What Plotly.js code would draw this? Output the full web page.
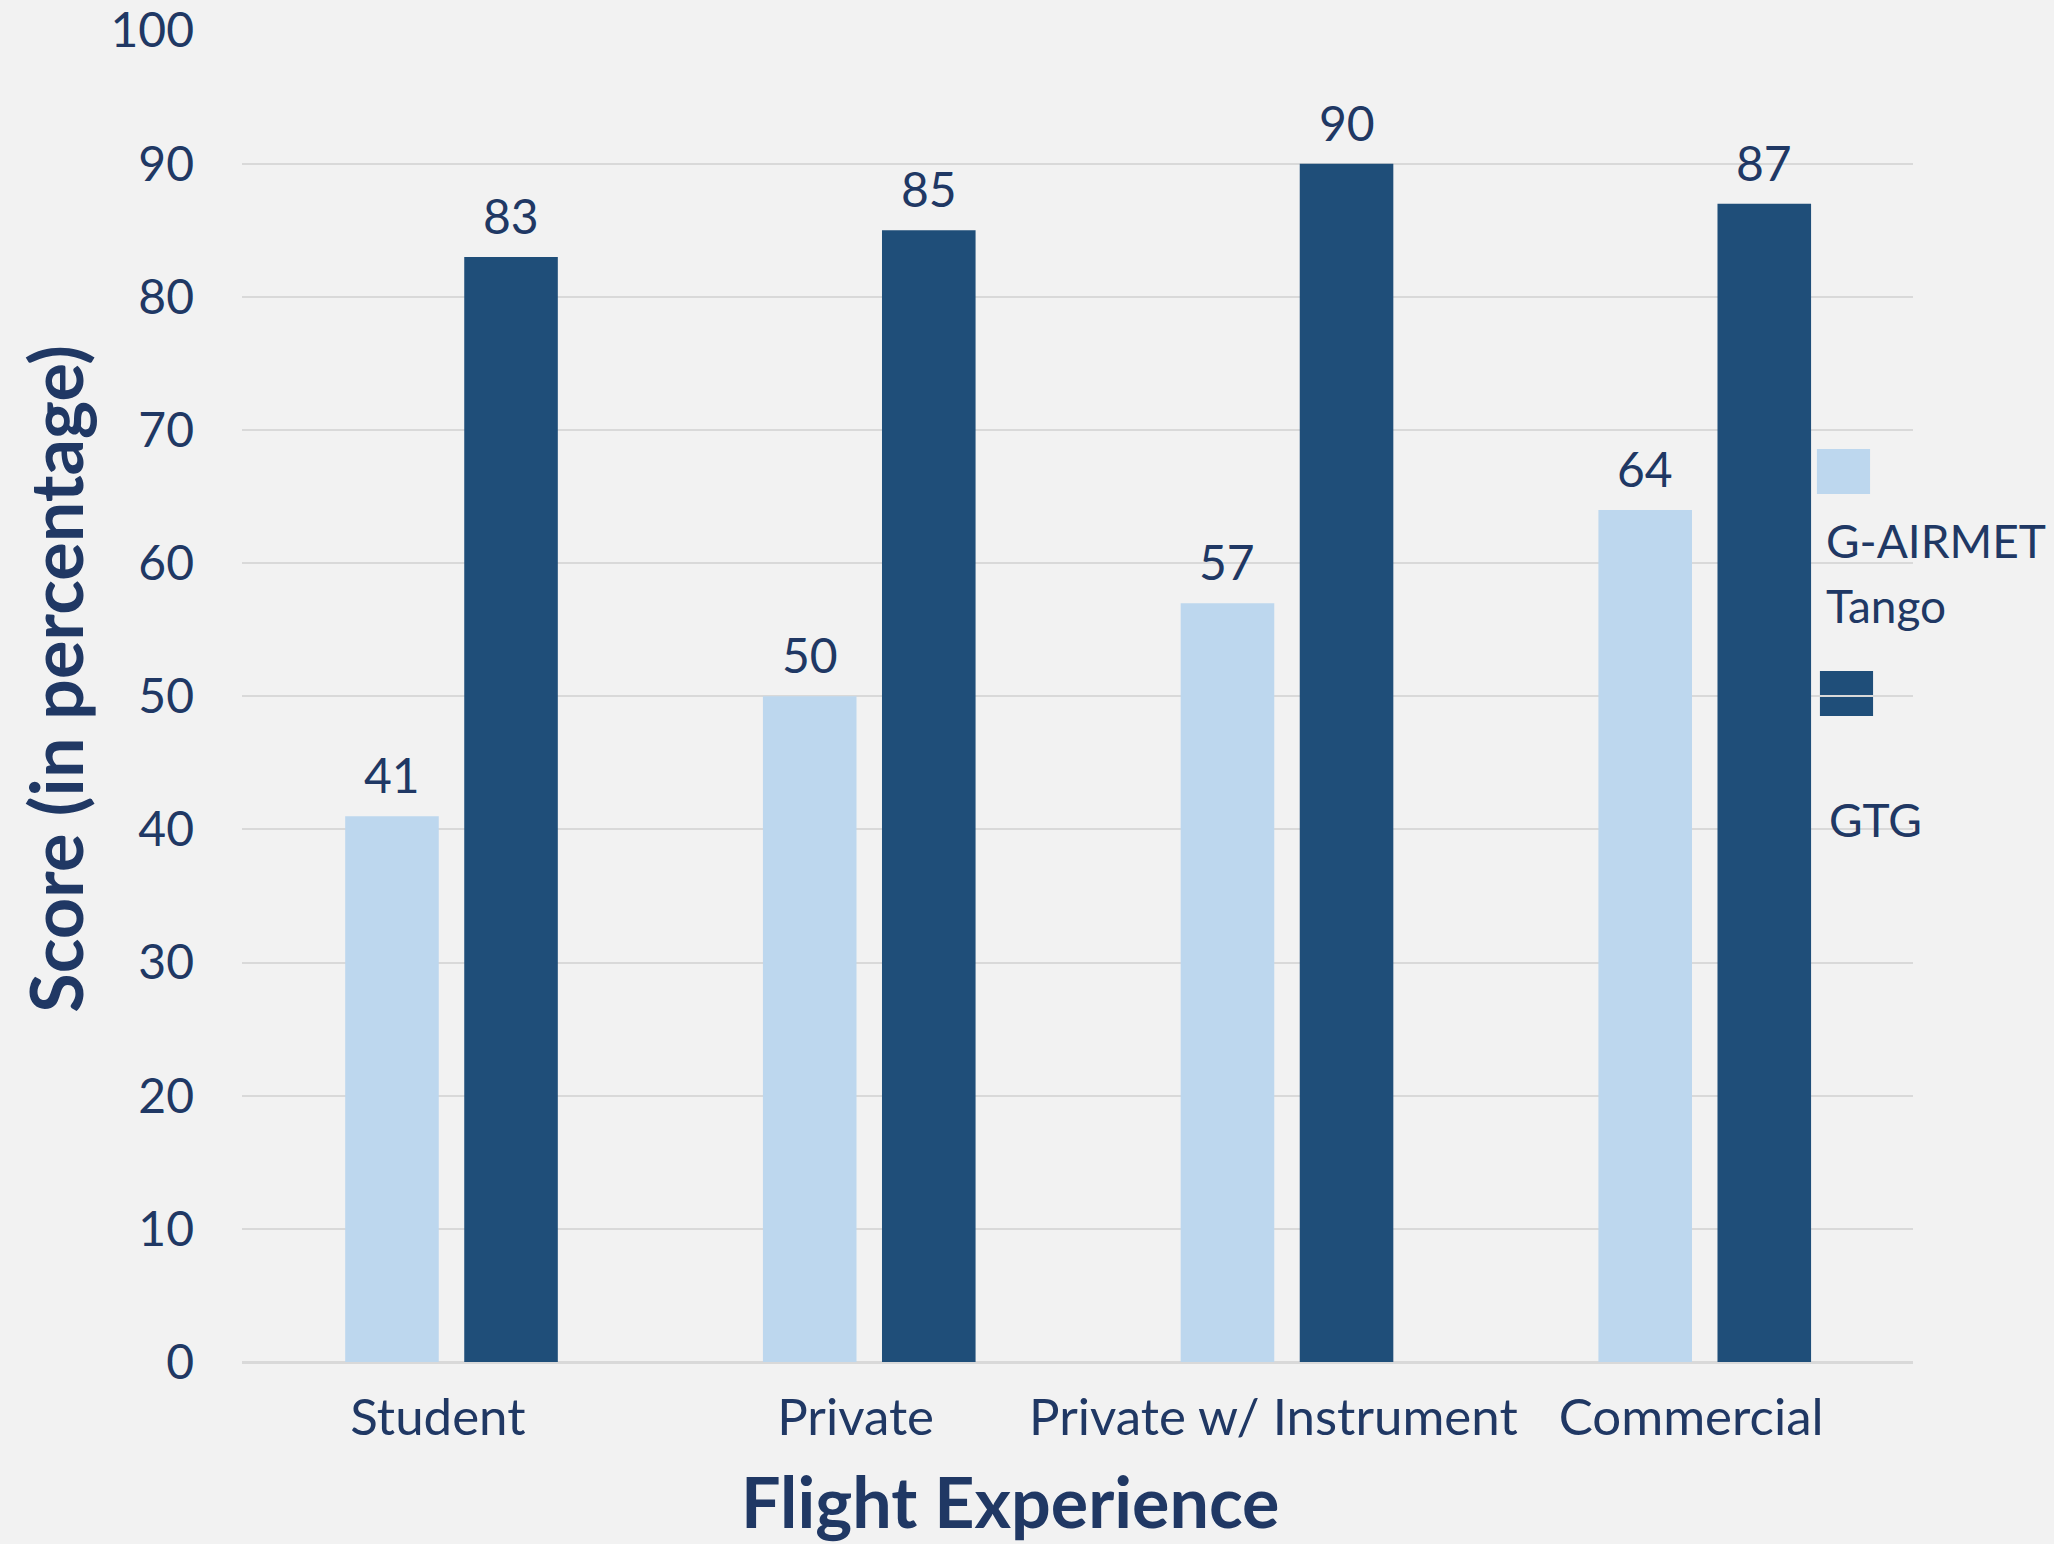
<!DOCTYPE html>
<html>
<head>
<meta charset="utf-8">
<script src="https://cdn.plot.ly/plotly-3.0.1.min.js"></script>
<style>
html,body{margin:0;padding:0;background:#F2F2F2;}
#chart{width:2054px;height:1544px;}
</style>
</head>
<body>
<div id="chart"></div>
<script>
// ---- data ----
const categories = ["Student", "Private", "Private w/ Instrument", "Commercial"];
const seriesNames = ["G-AIRMET Tango", "GTG"];
const gairmetTango = [41, 50, 57, 64];
const gtg = [83, 85, 90, 87];
const yTicks = [0, 10, 20, 30, 40, 50, 60, 70, 80, 90, 100];

// ---- style ----
const TXT = "#203864";
const LIGHT = "#BDD7EE";
const DARK = "#1F4E79";
const FONT = "Lato, 'Open Sans', sans-serif";
const BAR_W = 0.224;
const OFF_L = -0.253, OFF_D = 0.032;

const traces = [
  {type: "bar", name: seriesNames[0], x: categories, y: gairmetTango,
   marker: {color: LIGHT}, width: BAR_W, offset: OFF_L, hoverinfo: "none"},
  {type: "bar", name: seriesNames[1], x: categories, y: gtg,
   marker: {color: DARK}, width: BAR_W, offset: OFF_D, hoverinfo: "none"}
];

// data labels (pixel shift from category centre to bar centre)
const plotW = 1671, catPx = plotW / categories.length;
const shiftL = (OFF_L + BAR_W / 2) * catPx;
const shiftD = (OFF_D + BAR_W / 2) * catPx;
const annotations = [];
categories.forEach((c, i) => {
  annotations.push({x: c, y: gairmetTango[i], xref: "x", yref: "y", text: String(gairmetTango[i]),
    showarrow: false, xshift: shiftL, yanchor: "bottom", yshift: 11,
    font: {family: FONT, size: 48, color: TXT}});
  annotations.push({x: c, y: gtg[i], xref: "x", yref: "y", text: String(gtg[i]),
    showarrow: false, xshift: shiftD, yanchor: "bottom", yshift: 11,
    font: {family: FONT, size: 48, color: TXT}});
});
// legend (Excel-style: swatch above text)
const legFont = {family: FONT, size: 46, color: TXT};
annotations.push({xref: "paper", yref: "paper", x: 0.9470, y: 0.617, xanchor: "left", yanchor: "middle",
  text: "G-AIRMET", showarrow: false, font: legFont});
annotations.push({xref: "paper", yref: "paper", x: 0.9470, y: 0.568, xanchor: "left", yanchor: "middle",
  text: "Tango", showarrow: false, font: legFont});
annotations.push({xref: "paper", yref: "paper", x: 0.9485, y: 0.407, xanchor: "left", yanchor: "middle",
  text: seriesNames[1], showarrow: false, font: legFont});
// axis titles (Excel places them slightly off-centre)
annotations.push({xref: "paper", yref: "paper", x: 0.4595, y: -0.1040, xanchor: "center", yanchor: "middle",
  text: "<b>Flight Experience</b>", showarrow: false, font: {family: FONT, size: 70, color: TXT}});
annotations.push({xref: "paper", yref: "paper", x: -0.1119, y: 0.513, xanchor: "center", yanchor: "middle",
  textangle: -90, text: "<b>Score (in percentage)</b>", showarrow: false, font: {family: FONT, size: 72, color: TXT}});

const shapes = [
  {type: "rect", xref: "paper", yref: "paper", x0: 0.9425, x1: 0.9743, y0: 0.6517, y1: 0.6854,
   fillcolor: LIGHT, line: {width: 0}, layer: "below"},
  {type: "rect", xref: "paper", yref: "paper", x0: 0.9443, x1: 0.9761, y0: 0.485, y1: 0.5188,
   fillcolor: DARK, line: {width: 0}, layer: "below"}
];

const layout = {
  width: 2054, height: 1544,
  paper_bgcolor: "#F2F2F2", plot_bgcolor: "#F2F2F2",
  margin: {l: 242, r: 141, t: 30, b: 182, pad: 0},
  showlegend: false,
  barmode: "overlay",
  font: {family: FONT, color: TXT},
  xaxis: {
    type: "category", showgrid: false, zeroline: false, showline: false, ticks: "",
    tickfont: {family: FONT, size: 51, color: TXT},
    ticklabelshift: -13, ticklabelstandoff: 21
  },
  yaxis: {
    range: [0, 100.05], tickvals: yTicks, ticktext: yTicks.map(String),
    showgrid: true, gridcolor: "#D9D9D9", gridwidth: 2,
    zeroline: true, zerolinecolor: "#D9D9D9", zerolinewidth: 3,
    showline: false, ticks: "", ticklabelstandoff: 47,
    tickfont: {family: FONT, size: 48, color: TXT}
  },
  annotations: annotations,
  shapes: shapes
};

Plotly.newPlot("chart", traces, layout, {staticPlot: true, displayModeBar: false});
</script>
</body>
</html>
